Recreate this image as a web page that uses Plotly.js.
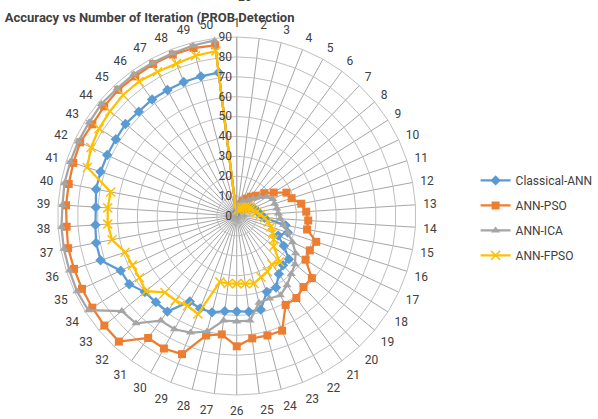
<!DOCTYPE html>
<html>
<head>
<meta charset="utf-8">
<script src="https://cdn.plot.ly/plotly-3.0.1.min.js"></script>
<style>html,body{margin:0;padding:0;background:#fff;}#chart{width:598px;height:419px;}</style>
</head>
<body>
<div id="chart"></div>
<script>
const categories = Array.from({length: 50}, (_, i) => String(i + 1));
const classicalANN = [0,2,3,3,4,5,6,7,8,9, 10,11,12,14,25,27,23,28,34,34, 36,41,41,48.6,48.5,48,48.2,50,50,49, 59.4,59.4,60,64,64.5,72,72,71.2,71,72, 72,72,72,72.6,72,72.4,72.3,72.5,72.5,72.7];
const annPSO = [0,5,6,8,10,12,14,18,22,27.6, 29,33,35,36,36,42,40.6,41,49,49, 51,51,62,62,62,65.5,60,62,74.7,76, 75.8,86.6,86.4,86,86,86,86.3,85.7,86,86, 86.4,87,86,86.5,87,86.8,87.2,87.3,87.2,86.5];
const annICA = [0,5,6,8,8,10,12,15,18,20, 20,20.5,21,22,24,27,31,35,38,40, 43,45.5,44.6,45,53,53,53,60,63,65, 65,74,75,88.4,88.8,88.5,88.5,88.3,87.8,88.2, 88,88.1,87.9,88.3,87.9,88.1,87.9,88,88.5,89];
const annFPSO = [0,3,4,4,5,5,6,7,8,8, 9,10,12,14,16,18,20,22,24,31.5, 30,32,33,35,34.3,34,34.2,34.2,53,51.4, 52.5,52.7,59.3,58,58,59,63.8,65,65,64.5, 79,81,82,82.7,83.5,83.6,82.8,82.4,83.2,83.6];
const seriesNames = ['Classical-ANN','ANN-PSO','ANN-ICA','ANN-FPSO'];
const radialTicks = [0,10,20,30,40,50,60,70,80,90];

const colors = ['#5b9bd5','#ed7d31','#a5a5a5','#ffc000'];
const symbols = ['diamond','square','triangle-up','x-thin-open'];
const data = [classicalANN, annPSO, annICA, annFPSO].map((vals, i) => ({
  type: 'scatterpolar',
  mode: 'lines+markers',
  name: seriesNames[i],
  legendgroup: 'g' + i,
  r: vals.concat([vals[0]]),
  theta: categories.concat([categories[0]]),
  line: {color: colors[i], width: 2.25},
  marker: i === 3
    ? {symbol: symbols[i], size: 9, color: colors[i], line: {color: colors[i], width: 1.5}}
    : {symbol: symbols[i], size: 8, color: colors[i], line: {width: 0}},
  cliponaxis: false
}));

const fontFam = 'Roboto, Arial, sans-serif';
const layout = {
  width: 598, height: 419,
  margin: {l: 0, r: 0, t: 0, b: 0},
  paper_bgcolor: '#ffffff',
  font: {family: fontFam, size: 12, color: '#404040'},
  title: {text: '<b>Accuracy vs Number of Iteration (PROB Detection</b>', x: 0.008, xanchor: 'left', y: 0.958, yanchor: 'middle',
          font: {family: fontFam, size: 13, color: '#404040'}},
  showlegend: true,
  legend: {x: 0.813, y: 0.48, xanchor: 'left', yanchor: 'middle', font: {size: 12, color: '#404040'}, tracegroupgap: 6, bgcolor: 'rgba(0,0,0,0)'},
  polar: {
    domain: {x: [0.0987, 0.7107], y: [0.0477, 0.9212]},
    bgcolor: '#ffffff',
    gridshape: 'linear',
    radialaxis: {range: [0, 90], tickvals: radialTicks, ticktext: radialTicks.map(String), angle: 90, side: 'counterclockwise', tickangle: 90,
      showline: true, linecolor: '#a6a6a6', linewidth: 1, gridcolor: '#bfbfbf', gridwidth: 1, ticks: '', tickfont: {size: 12, color: '#404040'}},
    angularaxis: {type: 'category', categoryarray: categories, rotation: 90, direction: 'clockwise',
      showline: true, linecolor: '#bfbfbf', linewidth: 1, gridcolor: '#a6a6a6', gridwidth: 1,
      ticks: 'outside', ticklen: 5, tickcolor: 'rgba(0,0,0,0)', tickfont: {size: 12, color: '#404040'}}
  },
  annotations: [{text: '26', xref: 'paper', yref: 'paper', x: 250/598, y: 1, xanchor: 'center', yanchor: 'middle', showarrow: false, yshift: 3, font: {size: 12, color: '#404040'}}]
};
Plotly.newPlot('chart', data, layout, {displayModeBar: false, staticPlot: true});
</script>
</body>
</html>
